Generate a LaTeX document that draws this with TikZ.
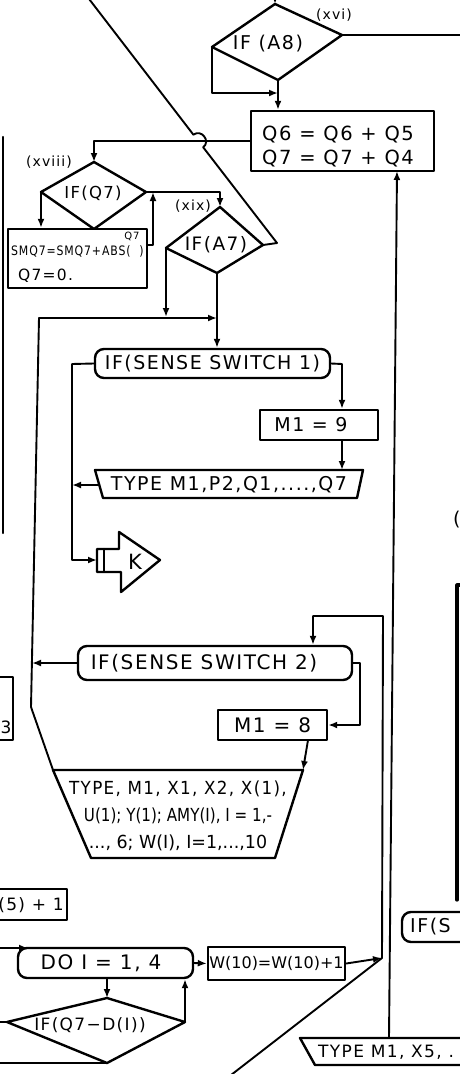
\documentclass[tikz,border=0pt]{standalone}
\usepackage{fontspec}
\newfontfamily\hand[LetterSpace=8]{DejaVu Sans}
\newfontfamily\handc{DejaVu Sans}
\usetikzlibrary{arrows.meta}
\begin{document}
\begin{tikzpicture}[x=1pt,y=-1pt,line join=round,line cap=round,
  shp/.style={line width=2.4pt},
  con/.style={line width=1.9pt},
  arr/.style={con,-{Latex[length=9pt,width=7pt]}},
  pbox/.style={draw,shp,inner sep=0pt,rectangle},
  capsule/.style={draw,shp,inner sep=0pt,rounded corners=9pt},
  txt/.style={inner sep=0pt,font=\hand\fontsize{19}{23}\selectfont},
  lbl/.style={inner sep=0pt,font=\hand\fontsize{14}{16}\selectfont}]
\useasboundingbox (0,0) rectangle (460,1074);

% ---------- IF(A8) diamond
\coordinate (a8t) at (275,4);
\coordinate (a8l) at (212,47);
\coordinate (a8r) at (342,35);
\coordinate (a8b) at (278,80);
\draw[shp] (a8t) -- (a8r) -- (a8b) -- (a8l) -- cycle;
\node[txt] (a8txt) at (268,44) {IF (A8)};
\node[lbl] (a8lab) at (334,15) {(xvi)};
\coordinate (a8in) at (275,-12);
\draw[arr] (a8in) -- (a8t);
\coordinate (a8out) at (470,35);
\draw[con] (a8r) -- (a8out);
\coordinate (a8j) at (278,93);
\draw[arr] (a8l) |- (a8j);

% ---------- Q6 box
\node[pbox,minimum width=183pt,minimum height=60pt] (q6) at (342.5,141) {};
\node[txt,font=\hand\fontsize{19.5}{24}\selectfont,align=left,anchor=west] (q6txt) at (262,147) {Q6 = Q6 + Q5\\Q7 = Q7 + Q4};
\draw[arr] (a8b) -- (q6.north -| a8b);

% ---------- IF(Q7) diamond
\coordinate (q7t) at (94,162);
\coordinate (q7l) at (41,192);
\coordinate (q7r) at (146,192);
\coordinate (q7b) at (94,229);
\draw[shp] (q7t) -- (q7r) -- (q7b) -- (q7l) -- cycle;
\node[txt,font=\hand\fontsize{16.5}{18}\selectfont] (q7txt) at (93,193) {IF(Q7)};
\node[lbl] (q7lab) at (49,162) {(xviii)};
\draw[arr] (q6.west) -| (q7t);

% ---------- SMQ7 box
\node[pbox,minimum width=139pt,minimum height=59pt] (sm) at (77.5,258.5) {};
\node[inner sep=0pt,font=\hand\fontsize{13}{14}\selectfont,anchor=west] (smtxt) at (11,251) {\scalebox{0.84}[1]{SMQ7=SMQ7+ABS(\ \ )}};
\node[inner sep=0pt,font=\hand\fontsize{10}{11}\selectfont] (smsup) at (132,236) {Q7};
\node[inner sep=0pt,font=\hand\fontsize{15.5}{16}\selectfont,anchor=west] (smtxt2) at (18,276) {Q7=0.};
\draw[arr] (q7l) -- (q7l |- sm.north);

% ---------- IF(A7) diamond
\coordinate (a7t) at (220,207);
\coordinate (a7l) at (166,248);
\coordinate (a7r) at (263,245);
\coordinate (a7b) at (217,273);
\draw[shp] (a7t) -- (a7r) -- (a7b) -- (a7l) -- cycle;
\node[txt,font=\hand\fontsize{18.5}{20}\selectfont] (a7txt) at (216,245) {IF(A7)};
\node[lbl] (a7lab) at (193,206) {(xix)};
\draw[arr] (q7r) -| (a7t);
\coordinate (smo) at (153,245);
\draw[arr] (sm.east |- smo) -- (smo) -- (smo |- q7r);

% diagonal with hop over the Q6 line
\coordinate (diagA) at (277,243);
\coordinate (hop1) at (203.2,147.3);
\coordinate (hop2) at (193.4,134.7);
\coordinate (diagEnd) at (86,-5);
\draw[con] (a7r) -- (diagA) -- (hop1) .. controls (211.1,141.2) and (201.3,128.6) .. (hop2) -- (diagEnd);

% ---------- join lines under IF(A7)
\coordinate (j1) at (166,317);
\draw[arr] (a7l) -- (j1);
\coordinate (lt) at (39,318);
\coordinate (j2) at (217,318);
\draw[arr] (lt) -- (j2);

% ---------- IF(SENSE SWITCH 1)
\node[capsule,txt,minimum width=235pt,minimum height=29pt] (ss1) at (212.5,363.5) {IF(SENSE SWITCH 1)};
\draw[arr] (a7b) -- (a7b |- ss1.north);
\coordinate (ss1L) at (72,364);
\coordinate (kw) at (97,560);
\draw[arr] (ss1.west) -- (ss1L) -- (ss1L |- kw) -- (kw);
\coordinate (ss1R) at (342,364);

% ---------- M1 = 9
\node[pbox,minimum width=118pt,minimum height=30pt] (m9) at (319,425) {};
\node[txt] (m9txt) at (311,425) {M1 = 9};
\draw[arr] (ss1.east) -- (ss1R) -- (ss1R |- m9.north);

% ---------- TYPE M1,P2,... trapezoid
\coordinate (tp1a) at (95,470);
\coordinate (tp1b) at (363,470);
\coordinate (tp1c) at (357,498);
\coordinate (tp1d) at (103,498);
\draw[shp] (tp1a) -- (tp1b) -- (tp1c) -- (tp1d) -- cycle;
\node[txt] (tp1txt) at (229,485) {TYPE M1,P2,Q1,....,Q7};
\coordinate (tp1top) at (342,470);
\draw[arr] (ss1R |- m9.south) -- (tp1top);
\coordinate (tp1L) at (99,485);
\coordinate (j3) at (72,485);
\draw[arr] (tp1L) -- (j3);

% ---------- K connector
\coordinate (k1) at (97,549);
\coordinate (k2) at (119,549);
\coordinate (k3) at (119,532);
\coordinate (k4) at (160,560);
\coordinate (k5) at (121,592);
\coordinate (k6) at (121,572);
\coordinate (k7) at (97,572);
\draw[shp] (k1) -- (k2) -- (k3) -- (k4) -- (k5) -- (k6) -- (k7) -- cycle;
\coordinate (ki1) at (104,549);
\coordinate (ki2) at (104,572);
\draw[shp] (ki1) -- (ki2);
\node[txt,font=\hand\fontsize{21}{22}\selectfont] (ktxt) at (135,562) {K};

% ---------- IF(SENSE SWITCH 2)
\node[capsule,minimum width=274pt,minimum height=34pt] (ss2) at (215,663) {};
\node[txt,font=\hand\fontsize{20}{22}\selectfont] (ss2txt) at (204,663) {IF(SENSE SWITCH 2)};
\coordinate (j4) at (32,663);
\draw[arr] (ss2.west) -- (j4);
\coordinate (jn) at (382,958);
\coordinate (lp) at (383,616);
\coordinate (ss2in) at (313,616);
\draw[arr] (jn) -- (lp) -- (ss2in) -- (ss2in |- ss2.north);

% ---------- M1 = 8
\node[pbox,txt,font=\hand\fontsize{20}{22}\selectfont,minimum width=109pt,minimum height=30pt] (m8) at (272.5,725) {M1 = 8};
\coordinate (ss2R1) at (360,663);
\draw[arr] (ss2.east) -- (ss2R1) |- (m8.east);

% ---------- TYPE, M1, X1 ... trapezoid
\coordinate (tw1) at (53,770);
\coordinate (tw2) at (303,770);
\coordinate (tw3) at (275,858);
\coordinate (tw4) at (91,858);
\draw[shp] (tw1) -- (tw2) -- (tw3) -- (tw4) -- cycle;
\node[inner sep=0pt,align=center,font=\handc\fontsize{18}{27}\selectfont] (twtxt) at (178,816)
  {\scalebox{0.93}[1]{\hand TYPE, M1, X1, X2, X(1),}\\\scalebox{0.84}[1]{U(1); Y(1); AMY(I), I = 1,-}\\\scalebox{0.97}[1]{..., 6; W(I), I=1,...,10}};
\coordinate (m8o) at (308,740);
\draw[arr] (m8o) -- (tw2);

% left return line
\coordinate (lb) at (31,707);
\draw[con] (lt) -- (lb) -- (tw1);

% ---------- partial boxes at the left edge
\coordinate (lf1) at (3,137);
\coordinate (lf2) at (3,533);
\draw[shp] (lf1) -- (lf2);
\node[pbox,minimum width=40pt,minimum height=63pt] (b3) at (-7,708.5) {};
\node[inner sep=0pt,font=\hand\fontsize{17}{18}\selectfont] (b3txt) at (6,727) {3};
\node[pbox,minimum width=147pt,minimum height=31pt] (b5) at (-6.5,904.5) {};
\node[inner sep=0pt,font=\hand\fontsize{17}{18}\selectfont] (b5txt) at (31,905) {(5) + 1};

% ---------- DO loop
\node[capsule,minimum width=175pt,minimum height=30pt] (do) at (105.5,963) {};
\node[txt,font=\hand\fontsize{20}{22}\selectfont] (dotxt) at (101,963) {DO I = 1, 4};
\coordinate (doin) at (-8,948);
\coordinate (doin2) at (28,948);
\draw[arr] (doin) -- (doin2);
\node[pbox,minimum width=137pt,minimum height=33pt] (wb) at (276.5,963.5) {};
\node[inner sep=0pt,font=\handc\fontsize{16}{18}\selectfont] (wbtxt) at (276.5,963.5) {W(10)=W(10)+1};
\draw[arr] (do.east) -- (wb.west);
\draw[arr] (wb.east) -- (jn);

\coordinate (ddt) at (107,998);
\coordinate (ddl) at (7,1022);
\coordinate (ddr) at (185,1022);
\coordinate (ddb) at (107,1063);
\draw[shp] (ddt) -- (ddr) -- (ddb) -- (ddl) -- cycle;
\node[txt,font=\hand\fontsize{17}{19}\selectfont] (ddtxt) at (90,1025) {IF(Q7−D(I))};
\draw[arr] (ddt |- do.south) -- (ddt);
\draw[arr] (ddr) -- (ddr |- do.south);
\coordinate (ddlo) at (-8,1022);
\draw[con] (ddl) -- (ddlo);
\coordinate (ddbo) at (-8,1063);
\draw[con] (ddb) -- (ddbo);

% diagonal from the bottom to the junction
\coordinate (dgb) at (222,1082);
\draw[con] (dgb) -- (jn);

% ---------- long return line into Q6 box
\coordinate (t5top) at (389,1038);
\coordinate (q6in) at (397,171);
\draw[arr] (t5top) -- (q6in);

% ---------- TYPE M1, X5 trapezoid (cut at the right edge)
\coordinate (t5a) at (300,1038);
\coordinate (t5b) at (470,1038);
\coordinate (t5c) at (470,1065);
\coordinate (t5d) at (315,1065);
\draw[shp] (t5b) -- (t5a) -- (t5d) -- (t5c);
\node[txt,font=\hand\fontsize{17}{19}\selectfont,anchor=west] (t5txt) at (318,1052) {TYPE M1, X5, .};

% ---------- right edge fragments
\coordinate (rb1) at (470,585);
\coordinate (rb2) at (457,585);
\coordinate (rb3) at (457,900);
\draw[line width=3.2pt] (rb1) -- (rb2) -- (rb3);
\node[txt,anchor=west] (rp) at (453,520) {(};
\node[capsule,minimum width=118pt,minimum height=30pt] (ss3) at (461,927) {};
\node[txt,anchor=west] (ss3txt) at (410,927) {IF(S};
\end{tikzpicture}
\end{document}
